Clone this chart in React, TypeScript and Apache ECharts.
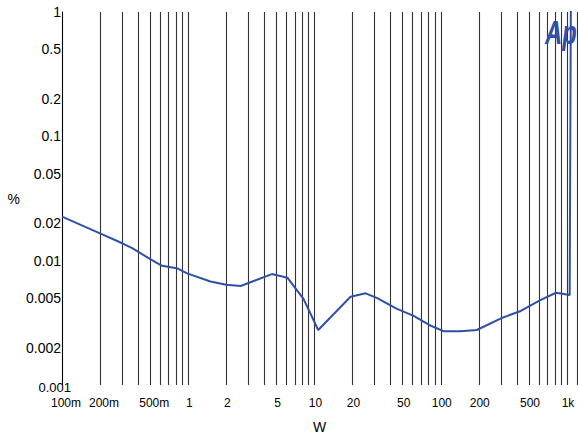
import React, { useEffect, useRef } from "react";
import * as echarts from "echarts";

// Measured curve: output power (W) vs THD+N (%)
const powerW = [
  0.1, 0.2, 0.3, 0.36, 0.5, 0.62, 0.81, 0.98, 1.5, 2.0, 2.6, 4.6, 6.1, 8.2,
  10.7, 19.3, 25.4, 31.4, 45, 61, 81, 106, 144, 193, 300, 430, 620, 820, 1050,
  1075,
];
const thdPercent = [
  0.0226, 0.0166, 0.0138, 0.0126, 0.0103, 0.0091, 0.0087, 0.0079, 0.0068,
  0.0064, 0.00625, 0.0078, 0.0073, 0.0049, 0.00277, 0.00513, 0.00546, 0.005,
  0.0041, 0.0036, 0.00304, 0.0027, 0.0027, 0.00277, 0.00344, 0.00394, 0.00483,
  0.00552, 0.0053, 2,
];

// Vertical grid lines (1..9 per decade)
const xGridValues = [
  0.1, 0.2, 0.3, 0.4, 0.5, 0.6, 0.7, 0.8, 0.9, 1, 2, 3, 4, 5, 6, 7, 8, 9, 10,
  20, 30, 40, 50, 60, 70, 80, 90, 100, 200, 300, 400, 500, 600, 700, 800, 900,
  1000, 1200,
];
const xTickValues = [0.1, 0.2, 0.5, 1, 2, 5, 10, 20, 50, 100, 200, 500, 1000];
const xTickLabels = [
  "100m", "200m", "500m", "1", "2", "5", "10", "20", "50", "100", "200", "500", "1k",
];
const yTickValues = [0.001, 0.002, 0.005, 0.01, 0.02, 0.05, 0.1, 0.2, 0.5, 1];
const yTickLabels = [
  "0.001", "0.002", "0.005", "0.01", "0.02", "0.05", "0.1", "0.2", "0.5", "1",
];

export default function App() {
  const ref = useRef<HTMLDivElement>(null);

  useEffect(() => {
    if (!ref.current) return;
    const chart = echarts.init(ref.current, null, { renderer: "svg" });
    const font = '"Liberation Sans", Arial, Helvetica, sans-serif';

    const xLines = xGridValues.map((v) => {
      const idx = xTickValues.indexOf(v);
      return {
        xAxis: v,
        lineStyle: {
          color: v === 0.1 ? "#000" : "#333",
          width: 1.1,
          type: "solid" as const,
        },
        label:
          idx >= 0
            ? {
                show: true,
                position: "start" as const,
                distance: 12,
                formatter: xTickLabels[idx],
                fontSize: 12,
                fontFamily: font,
                color: "#000",
                offset: idx < 3 ? [4, 0] : [1, 0],
              }
            : { show: false },
      };
    });

    const yLines = yTickValues.map((v, i) => ({
      yAxis: v,
      lineStyle: { color: "transparent", width: 0, type: "solid" as const },
      label: {
        show: true,
        position: "start" as const,
        distance: 1,
        formatter: yTickLabels[i],
        fontSize: i === 0 ? 13 : 14,
        fontFamily: font,
        color: "#000",
        offset: i === 0 ? [10, 2] : [0, 0],
      },
    }));

    chart.setOption({
      animation: false,
      backgroundColor: "#fff",
      grid: { left: 62, top: 12, right: 1, bottom: 54, containLabel: false },
      xAxis: {
        type: "log",
        logBase: 10,
        min: 0.1,
        max: 1200,
        name: "W",
        nameLocation: "middle",
        nameGap: 35,
        nameTextStyle: { fontSize: 14, fontFamily: font, color: "#000" },
        axisLine: { show: false },
        axisTick: { show: false },
        axisLabel: { show: false },
        splitLine: { show: false },
      },
      yAxis: {
        type: "log",
        logBase: 10,
        min: 0.001,
        max: 1,
        name: "%",
        nameLocation: "middle",
        nameRotate: 0,
        nameGap: 42,
        nameTextStyle: { fontSize: 14, fontFamily: font, color: "#000" },
        axisLine: { show: true, lineStyle: { color: "#000", width: 1 } },
        axisTick: { show: false },
        axisLabel: { show: false },
        splitLine: { show: false },
      },
      series: [
        {
          type: "line",
          data: powerW.map((x, i) => [x, thdPercent[i]]),
          symbol: "none",
          clip: true,
          lineStyle: { color: "#3050a8", width: 2 },
          z: 5,
          markLine: {
            silent: true,
            symbol: ["none", "none"],
            precision: 8,
            animation: false,
            data: [...xLines, ...yLines],
          },
        },
      ],
      graphic: [
        {
          type: "text",
          x: 545,
          y: 16,
          scaleX: 0.72,
          z: 10,
          style: {
            text: "Ap",
            font: 'italic bold 33px "Liberation Sans", Arial, sans-serif',
            fill: "#2f4fa8",
            textVerticalAlign: "top",
          },
        },
      ],
    });

    return () => chart.dispose();
  }, []);

  return (
    <div
      ref={ref}
      style={{
        position: "fixed",
        left: 0,
        top: 0,
        width: 578,
        height: 439,
        background: "#fff",
      }}
    />
  );
}
